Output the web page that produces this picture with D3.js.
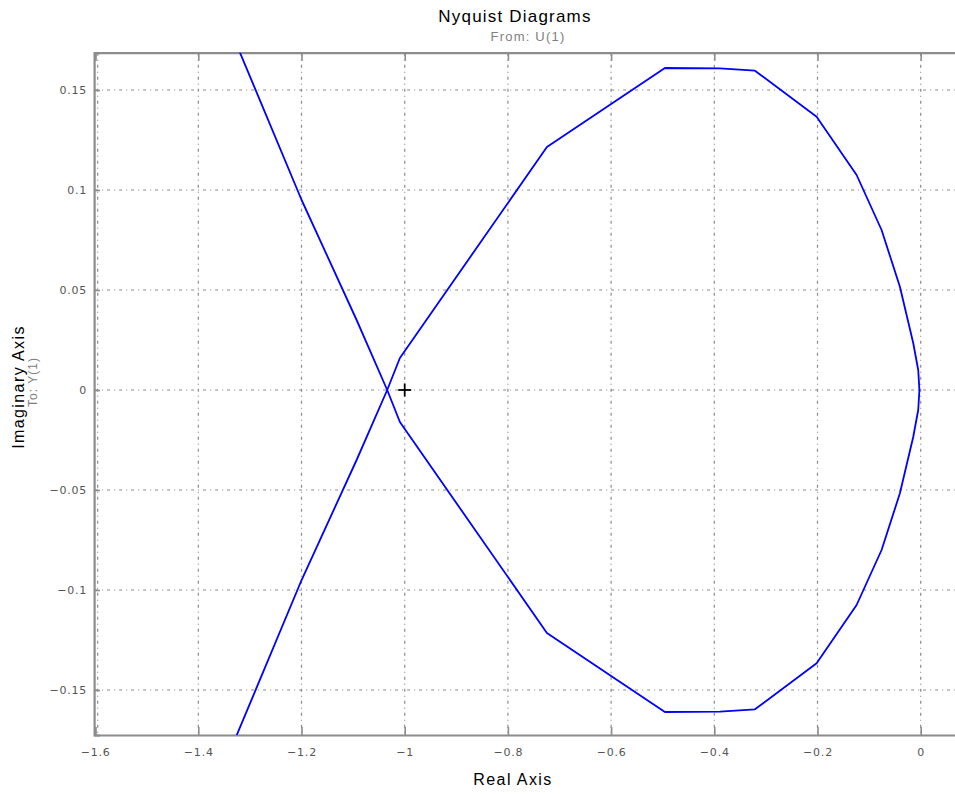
<!DOCTYPE html>
<html>
<head>
<meta charset="utf-8">
<script src="https://cdn.jsdelivr.net/npm/d3@7"></script>
<style>
  html, body { margin: 0; padding: 0; background: #fff; }
  svg { display: block; }
</style>
</head>
<body>
<svg id="chart" width="955" height="794"></svg>
<script>
// ---- data ----
const branchReal = [-1.370, -1.1998, -1.0932, -1.0339, -1.0093, -0.7244, -0.4957, -0.3891, -0.3213, -0.2017, -0.1242, -0.0758, -0.0403, -0.0145, -0.0048, -0.0025];
const branchImag = [-0.200, -0.0950, -0.0350, 0.0000, 0.0160, 0.1215, 0.1610, 0.16085, 0.15965, 0.13665, 0.1075, 0.0800, 0.05165, 0.0235, 0.0100, 0.0000];
const xTicks = [-1.6, -1.4, -1.2, -1, -0.8, -0.6, -0.4, -0.2, 0];
const xTickLabels = ["\u22121.6", "\u22121.4", "\u22121.2", "\u22121", "\u22120.8", "\u22120.6", "\u22120.4", "\u22120.2", "0"];
const yTicks = [0.15, 0.1, 0.05, 0, -0.05, -0.1, -0.15];
const yTickLabels = ["0.15", "0.1", "0.05", "0", "\u22120.05", "\u22120.1", "\u22120.15"];
const xDomain = [-1.6, 0.07];
const yDomain = [-0.1725, 0.16865];
const criticalPoint = [-1, 0];

(function () {
// ---- layout ----
const svg = d3.select("#chart");
const pLeft = 95.1, pTop = 52.7, pBottom = 735;
const pxPerUnit = 516;
const pRight = pLeft + (xDomain[1] - xDomain[0]) * pxPerUnit;

const x = d3.scaleLinear().domain(xDomain).range([pLeft, pRight]);
const y = d3.scaleLinear().domain(yDomain).range([pBottom, pTop]);

const gridColor = "#8a8a8a";
const axisColor = "#8c8c8c";

// clip
svg.append("defs").append("clipPath").attr("id", "plotClip")
  .append("rect").attr("x", pLeft).attr("y", pTop).attr("width", pRight - pLeft).attr("height", pBottom - pTop);

// grid
const grid = svg.append("g");
grid.selectAll("line.vg").data(xTicks).join("line")
  .attr("x1", d => x(d) + (d === -1.6 ? 2.6 : 0)).attr("x2", d => x(d) + (d === -1.6 ? 2.6 : 0))
  .attr("y1", pTop).attr("y2", pBottom)
  .attr("stroke", gridColor).attr("stroke-width", 1.2)
  .attr("stroke-dasharray", "3,4,1,4");
grid.selectAll("line.hg").data(yTicks).join("line")
  .attr("x1", pLeft).attr("x2", pRight)
  .attr("y1", d => y(d)).attr("y2", d => y(d))
  .attr("stroke", gridColor).attr("stroke-width", 1.2)
  .attr("stroke-dasharray", "3,4,1,4");

// axes via d3
const xAxisBottom = d3.axisBottom(x).tickValues(xTicks).tickSize(-8).tickFormat((d, i) => xTickLabels[i]).tickPadding(13);
const xAxisTop = d3.axisTop(x).tickValues(xTicks).tickSize(-8).tickFormat("");
const yAxisLeft = d3.axisLeft(y).tickValues(yTicks).tickSize(-6).tickFormat((d, i) => yTickLabels[i]).tickPadding(7);

function styleAxis(g) {
  g.select(".domain").attr("stroke", axisColor).attr("stroke-width", 2.2);
  g.selectAll(".tick line").attr("stroke", axisColor).attr("stroke-width", 1.6);
  g.selectAll(".tick text").attr("fill", "#555").attr("font-family", "'DejaVu Sans', sans-serif")
    .attr("font-size", 11).attr("letter-spacing", 0.8);
}
svg.append("g").attr("transform", `translate(0,${pBottom})`).call(xAxisBottom).call(styleAxis);
svg.append("g").attr("transform", `translate(0,${pTop})`).call(xAxisTop).call(styleAxis);
svg.append("g").attr("transform", `translate(${pLeft - 1},0)`).call(yAxisLeft).call(styleAxis);

// curves
const line = d3.line().x(d => x(d[0])).y(d => y(d[1]));
const upper = branchReal.map((r, i) => [r, branchImag[i]]);
const lower = branchReal.map((r, i) => [r, -branchImag[i]]);
const curves = svg.append("g").attr("clip-path", "url(#plotClip)");
[upper, lower].forEach(pts => {
  curves.append("path").datum(pts).attr("d", line)
    .attr("fill", "none").attr("stroke", "#0000ff").attr("stroke-width", 1.8)
    .attr("stroke-linejoin", "round");
});

// critical point marker
const cx = x(criticalPoint[0]), cy = y(criticalPoint[1]);
svg.append("line").attr("x1", cx - 6.5).attr("x2", cx + 6.5).attr("y1", cy).attr("y2", cy)
  .attr("stroke", "#000").attr("stroke-width", 1.8);
svg.append("line").attr("x1", cx).attr("x2", cx).attr("y1", cy - 6.5).attr("y2", cy + 6.5)
  .attr("stroke", "#000").attr("stroke-width", 1.8);

// titles
const font = "'Liberation Sans', Arial, sans-serif";
svg.append("text").attr("x", 515).attr("y", 22).attr("text-anchor", "middle")
  .attr("font-family", font).attr("font-size", 17).attr("letter-spacing", 1.2).attr("fill", "#000")
  .text("Nyquist Diagrams");
svg.append("text").attr("x", 528).attr("y", 41).attr("text-anchor", "middle")
  .attr("font-family", font).attr("font-size", 13).attr("letter-spacing", 1.2).attr("fill", "#808080")
  .text("From: U(1)");
svg.append("text").attr("x", 513).attr("y", 785).attr("text-anchor", "middle")
  .attr("font-family", font).attr("font-size", 16).attr("letter-spacing", 1.4).attr("fill", "#000")
  .text("Real Axis");
svg.append("text").attr("transform", "translate(24,387) rotate(-90)").attr("text-anchor", "middle")
  .attr("font-family", font).attr("font-size", 16).attr("letter-spacing", 1.4).attr("fill", "#000")
  .text("Imaginary Axis");
svg.append("text").attr("transform", "translate(37,382) rotate(-90)").attr("text-anchor", "middle")
  .attr("font-family", font).attr("font-size", 12).attr("letter-spacing", 1.0).attr("fill", "#808080")
  .text("To: Y(1)");
})();
</script>
</body>
</html>
